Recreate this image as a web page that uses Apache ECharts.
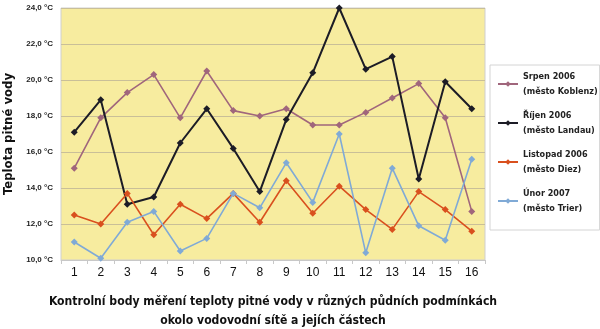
<!DOCTYPE html>
<html><head><meta charset="utf-8">
<script src="https://cdn.jsdelivr.net/npm/echarts@6/dist/echarts.min.js"></script>
<style>html,body{margin:0;padding:0;background:#fff}#c{width:600px;height:329px}</style>
</head><body><div id="c"></div>
<script>
const categories = ['1','2','3','4','5','6','7','8','9','10','11','12','13','14','15','16'];
const srpen   = [15.1,17.9,19.3,20.3,17.9,20.5,18.3,18.0,18.4,17.5,17.5,18.2,19.0,19.8,17.9,12.7];
const rijen   = [17.1,18.9,13.1,13.5,16.5,18.4,16.2,13.8,17.8,20.4,24.0,20.6,21.3,14.5,19.9,18.4];
const listopad= [12.5,12.0,13.7,11.4,13.1,12.3,13.7,12.1,14.4,12.6,14.1,12.8,11.7,13.8,12.8,11.6];
const unor    = [11.0,10.1,12.1,12.7,10.5,11.2,13.7,12.9,15.4,13.2,17.0,10.4,15.1,11.9,11.1,15.6];
const seriesNames = ['Srpen 2006\n(město Koblenz)','Říjen 2006\n(město Landau)','Listopad 2006\n(město Diez)','Únor 2007\n(město Trier)'];
const colors = ['#a0667c','#1c1c26','#d9501e','#80aad6'];
const yMin = 10, yMax = 24, yStep = 2;

const chart = echarts.init(document.getElementById('c'), null, {renderer:'canvas'});
const values = [srpen, rijen, listopad, unor];
chart.setOption({
  animation:false,
  color: colors,
  grid:{left:61,right:115,top:8,bottom:69,containLabel:false,outerBoundsMode:'none',show:true,backgroundColor:'#f7ec9f',borderColor:'#cfcfcf',borderWidth:1},
  legend:{
    orient:'vertical', left:490, top:65,
    backgroundColor:'#fff', borderColor:'#d4d4d4', borderWidth:1,
    padding:[4,2,14,7], itemGap:9, itemWidth:20, itemHeight:7,
    textStyle:{fontFamily:'DejaVu Sans Condensed',fontWeight:'bold',fontSize:9,color:'#222',lineHeight:15},
    data: seriesNames
  },
  xAxis:{
    type:'category', data:categories, boundaryGap:true,
    axisLine:{lineStyle:{color:'#c8c8c8'}},
    axisTick:{show:true,length:4,lineStyle:{color:'#c8c8c8'}},
    axisLabel:{fontFamily:'Liberation Sans',fontSize:12,color:'#111',margin:7},
    name:'Kontrolní body měření teploty pitné vody v různých půdních podmínkách\nokolo vodovodní sítě a jejích částech',
    nameLocation:'middle', nameGap:32,
    nameTextStyle:{fontFamily:'DejaVu Sans Condensed',fontWeight:'bold',fontSize:12.1,color:'#111',lineHeight:19}
  },
  yAxis:{
    type:'value', min:yMin, max:yMax, interval:yStep,
    axisLine:{show:false}, axisTick:{show:false},
    splitLine:{lineStyle:{color:'#c9bf98',width:1}},
    axisLabel:{fontFamily:'Liberation Sans',fontWeight:'bold',fontSize:8,color:'#222',margin:8,
      formatter:v=>v.toFixed(1).replace('.',',')+' °C'},
    name:'Teplota pitné vody', nameLocation:'middle', nameGap:37, nameRotate:90,
    nameTextStyle:{fontFamily:'DejaVu Sans Condensed',fontWeight:'bold',fontSize:13,color:'#111'}
  },
  series: values.map((d,i)=>({
    name:seriesNames[i], type:'line', data:d, symbol:'diamond', symbolSize:7,
    lineStyle:{width: i===1?2:1.6, color:colors[i]}, itemStyle:{color:colors[i]}
  }))
});
</script></body></html>
